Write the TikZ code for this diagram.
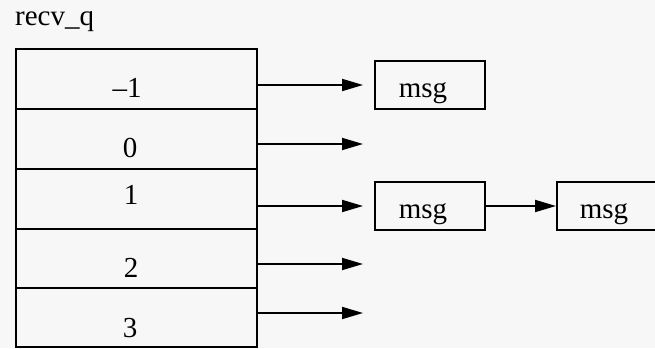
\documentclass[tikz,border=0pt]{standalone}
\usepackage{fontspec}
\setmainfont{Liberation Serif}
\usetikzlibrary{arrows.meta}
\begin{document}
\begin{tikzpicture}[x=1pt,y=-1pt,
  cell/.style={draw,line width=2pt,minimum width=241pt,minimum height=60pt,inner sep=0pt,anchor=north west},
  msgbox/.style={draw,line width=2pt,minimum width=110pt,minimum height=49pt,inner sep=0pt,anchor=north west},
  lbl/.style={font=\fontsize{29}{31}\selectfont,inner sep=0pt,anchor=base},
  ptr/.style={line width=1.8pt,-{Triangle[length=21pt,width=12pt]}}]
\useasboundingbox (0,0) rectangle (655,348);
\clip (0,0) rectangle (655,348);
\fill[white!97!black] (0,0) rectangle (655,348);
% title
\node[lbl,anchor=base west] (title) at (15,25) {recv\_q};
% rows
\node[cell] (r0) at (15,48) {};
\node[cell] (r1) at (15,108) {};
\node[cell] (r2) at (15,168) {};
\node[cell,minimum height=59pt] (r3) at (15,228) {};
\node[cell,minimum height=59pt] (r4) at (15,287) {};
\node[lbl] (t0) at (127,97) {\textendash1};
\node[lbl] (t1) at (130,157) {0};
\node[lbl] (t2) at (131,204) {1};
\node[lbl] (t3) at (131,277) {2};
\node[lbl] (t4) at (130,337) {3};
% message boxes
\node[msgbox,minimum height=48pt] (m1) at (374,60) {};
\node[msgbox,minimum height=48pt] (m2) at (374,181) {};
\node[msgbox,minimum height=48pt] (m3) at (556,181) {};
\node[lbl] (m1t) at (423,97) {msg};
\node[lbl] (m2t) at (423,218) {msg};
\node[lbl] (m3t) at (604,218) {msg};
% free ends
\coordinate (e1) at (363,144);
\coordinate (e3) at (363,264);
\coordinate (e4) at (363,313);
% pointers
\draw[ptr,shorten >=11pt] (r0.east |- m1.west) -- (m1.west);
\draw[ptr] (r1.east |- e1) -- (e1);
\draw[ptr,shorten >=11pt] (r2.east |- m2.west) -- (m2.west);
\draw[ptr] (r3.east |- e3) -- (e3);
\draw[ptr] (r4.east |- e4) -- (e4);
\draw[ptr] (m2.east) -- (m3.west);
\end{tikzpicture}
\end{document}
